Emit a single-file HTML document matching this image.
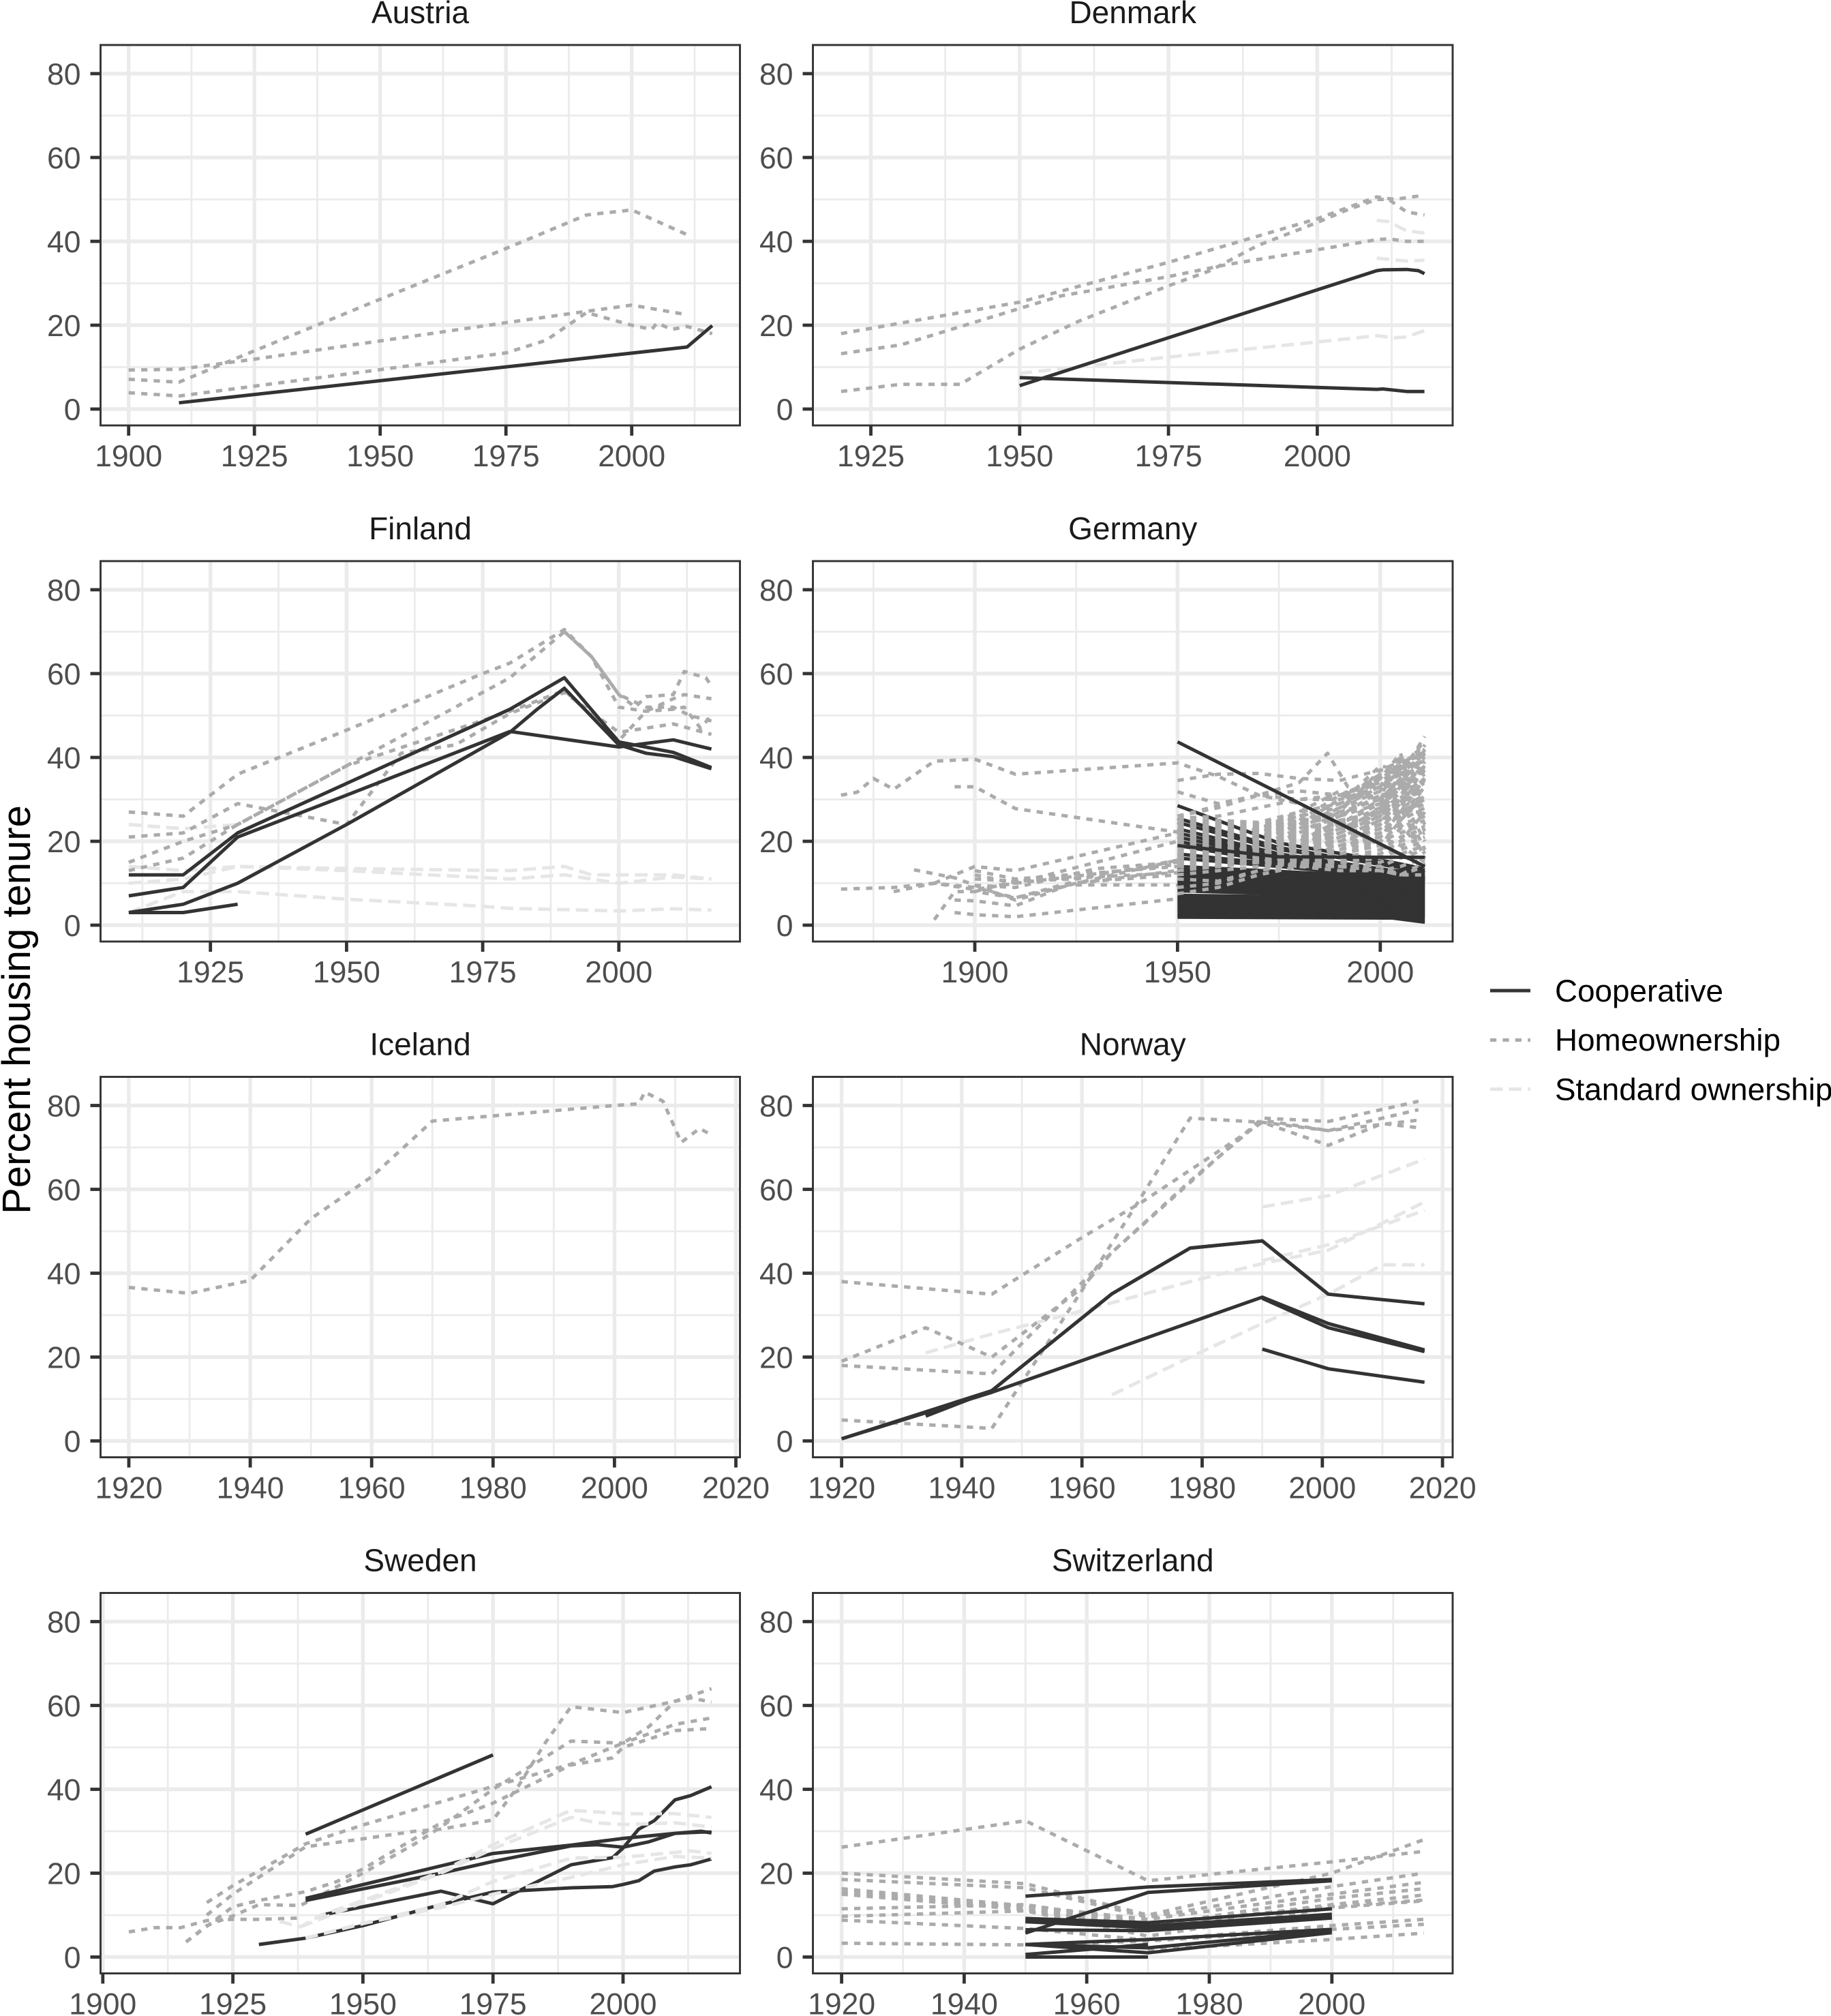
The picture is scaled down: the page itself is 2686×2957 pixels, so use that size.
<!DOCTYPE html>
<html lang="en">
<head>
<meta charset="utf-8">
<title>Percent housing tenure by country</title>
<style>
html,body{margin:0;padding:0;background:#fff;}
svg{display:block;font-family:"Liberation Sans",sans-serif;}
</style>
</head>
<body>
<svg id="chart" xmlns="http://www.w3.org/2000/svg" width="2686" height="2957" viewBox="0 0 2686 2957">
<rect x="0" y="0" width="2686" height="2957" fill="#ffffff"/>
<text transform="translate(44,1481) rotate(-90)" text-anchor="middle" font-size="58" fill="#000000">Percent housing tenure</text>
<g>
<line x1="2186" x2="2245" y1="1453" y2="1453" stroke="#333333" stroke-width="5"/>
<text x="2281" y="1469" font-size="45.8" fill="#000000">Cooperative</text>
<line x1="2186" x2="2245" y1="1525.5" y2="1525.5" stroke="#ABABAB" stroke-width="5" stroke-dasharray="9.2 9.2"/>
<text x="2281" y="1541" font-size="45.8" fill="#000000">Homeownership</text>
<line x1="2186" x2="2245" y1="1597.5" y2="1597.5" stroke="#E6E6E6" stroke-width="5" stroke-dasharray="18.4 9.2"/>
<text x="2281" y="1613.5" font-size="45.8" fill="#000000">Standard ownership</text>
</g>
</svg>
<script>
// ---------- y axis ----------
const yTicks = [0, 20, 40, 60, 80];
const yMinor = [10, 30, 50, 70];

// ---------- x axis breaks ----------
const austriaTicks = [1900, 1925, 1950, 1975, 2000];
const austriaMinor = [1912.5, 1937.5, 1962.5, 1987.5, 2012.5];
const denmarkTicks = [1925, 1950, 1975, 2000];
const denmarkMinor = [1937.5, 1962.5, 1987.5, 2012.5];
const finlandTicks = [1925, 1950, 1975, 2000];
const finlandMinor = [1912.5, 1937.5, 1962.5, 1987.5, 2012.5];
const germanyTicks = [1900, 1950, 2000];
const germanyMinor = [1875, 1925, 1975];
const icelandTicks = [1920, 1940, 1960, 1980, 2000, 2020];
const icelandMinor = [1930, 1950, 1970, 1990, 2010];
const norwayTicks = [1920, 1940, 1960, 1980, 2000, 2020];
const norwayMinor = [1930, 1950, 1970, 1990, 2010];
const swedenTicks = [1900, 1925, 1950, 1975, 2000];
const swedenMinor = [1912.5, 1937.5, 1962.5, 1987.5, 2012.5];
const switzerlandTicks = [1920, 1940, 1960, 1980, 2000];
const switzerlandMinor = [1930, 1950, 1970, 1990, 2010];

// ---------- series: flat lists of year, percent, year, percent ... ----------
const austriaCoop = [
  [1910,1.5, 2011,14.8, 2016,19.9]
];
const austriaHome = [
  [1900,9.3, 1910,9.5, 1925,11.9, 1975,20.6, 1991,23.3, 2000,24.8, 2011,22.5],
  [1900,7.1, 1910,6.4, 1925,13.9, 1950,26.2, 1975,38.3, 1991,46.3, 2000,47.5, 2011,41.6],
  [1900,3.9, 1910,3.1, 1950,9.4, 1975,13.4, 1983,16.4, 1991,23, 2000,20, 2004,19, 2005,20.5, 2008,19, 2011,19.7, 2016,18]
];

const denmarkCoop = [
  [1950,5.6, 2010,33, 2011,33.2, 2015,33.3, 2017,33, 2018,32.3],
  [1950,7.5, 2010,4.7, 2011,4.8, 2015,4.2, 2018,4.2]
];
const denmarkHome = [
  [1920,18, 1950,25.5, 1975,35, 2000,45.4, 2010,50.6, 2013,50, 2018,51],
  [1920,13.2, 1930,15.3, 1950,24, 1957,27, 1963,28.5, 1975,31.6, 1985,34.5, 2000,38, 2010,40.4, 2012,40.6, 2015,40, 2018,40],
  [1920,4.2, 1930,5.9, 1940,5.9, 1950,14.3, 1960,21, 1975,29.4, 1982,33, 1990,39, 2000,44.5, 2005,47.5, 2010,50, 2012,50, 2015,47, 2018,46.3]
];
const denmarkStd = [
  [1950,8.5, 1975,12.4, 2000,16, 2010,17.5, 2013,17, 2015,17.2, 2018,18.7],
  [2010,45, 2012,44.7, 2015,42.5, 2018,42],
  [2010,36, 2015,35.3, 2018,35.5]
];

const finlandCoop = [
  [1910,12, 1920,12, 1930,22, 1980,51.5, 1990,59, 2000,43.7, 2010,41.2, 2017,37.6],
  [1910,7, 1920,9, 1930,21, 1950,31, 1980,46.2, 2000,42.5, 2010,44.2, 2017,42],
  [1910,3, 1920,5, 1930,10, 1950,24, 1980,46, 1985,51.5, 1990,56.5, 2000,43, 2005,41, 2010,40.2, 2017,37.3],
  [1910,3, 1920,3, 1930,5]
];
const finlandHome = [
  [1910,27, 1920,26, 1930,36, 1950,46.5, 1975,60, 1980,62.5, 1990,70.5, 1995,64, 2000,55, 2003,52, 2005,54.5, 2010,55, 2012,60.5, 2016,59, 2017,57],
  [1910,21, 1920,22, 1930,29, 1950,24, 1960,41, 1970,43, 1980,50.5, 1990,55.5, 2000,46, 2010,48, 2017,45.5],
  [1910,15, 1920,20, 1930,24, 1950,38, 1980,59, 1990,70, 1995,64, 2000,52, 2005,51, 2010,51.5, 2012,52, 2015,47, 2017,50],
  [1910,13, 1920,16, 1930,24, 1935,27.5, 1950,38, 1980,51, 1990,56, 2000,44, 2005,51, 2010,54, 2012,55, 2017,54],
  [1990,70, 1995,64, 2000,55, 2005,52, 2010,52, 2013,50, 2017,48.7]
];
const finlandStd = [
  [1910,24, 1920,23, 1930,24],
  [1910,14, 1920,13, 1930,14, 1950,13.5, 1980,13, 1990,14, 1995,12, 2000,12, 2010,12, 2017,11],
  [1910,10, 1920,11, 1930,14, 1950,13, 1980,11, 1990,12, 2000,10, 2010,11.5, 2017,11],
  [1910,3, 1920,8, 1930,8, 1950,6.2, 1975,4.5, 1980,4, 2000,3.4, 2010,3.9, 2017,3.6]
];

const germanyCoopTopYears = [1950, 1975, 2003, 2011];
const germanyCoopTop = [
  [28.5,19.6,15,13.4],
  [25.5,18.5,14,13.3],
  [24.5,18,14.5,12.5],
  [23,17,13,13],
  [22,16.5,13,12],
  [21,16,13,11.5],
  [20,15.5,12.5,11.2],
  [19,15,12,11],
  [17,14.5,11.8,10.5],
  [16,14,11.5,10.8]
];
const germanyCoopBandYears = [1950, 2003, 2011];
const germanyCoopBand = [
  [14,11.5,11],[13.7,11,10.7],[13.3,10.8,10.3],[13,10.5,10],[12.6,10,9.8],[12.2,10,9.5],
  [11.9,9.7,9.2],[11.5,9.4,9],[11.1,9,8.7],[10.7,8.7,8.3],[10.4,8.5,8],[10,8.2,7.8],
  [9.6,7.9,7.5],[9.2,7.7,7.2],[8.9,7.4,7],[8.5,7,6.7],[8.2,6.8,6.4],[7.1,6.5,6],
  [6.9,6.2,5.8],[6.6,6,5.5],[6.3,5.7,5.2],[6,5.4,5],[5.7,5,4.7],[5.3,4.7,4.4],
  [5,4.5,4.1],[4.6,4.2,3.8],[4.3,3.9,3.5],[3.9,3.6,3.2],[3.7,3.3,2.9],[3.4,3,2.6],
  [2.7,2.7,2.3],[2.5,2.4,1.9],[2.2,2,1.4],[1.9,1.7,0.7]
];
const germanyCoopLead = [
  [1950,43.7, 2011,14],
  [1950,19, 1975,16.3, 2000,16.2, 2011,16.2]
];
const germanyHomeEarly = [
  [1867,31, 1871,31.7, 1875,35, 1880,32.4, 1890,39.1, 1900,39.6, 1910,36, 1950,38.7, 1960,35.5, 1970,31, 1980,29, 1990,24, 2000,19, 2011,14],
  [1895,33, 1900,33, 1910,27.8, 1950,22.2],
  [1867,8.6, 1880,9, 1890,10, 1900,8.5, 1910,10, 1950,14.5],
  [1880,8, 1890,10, 1900,9, 1910,6.5, 1923,10, 1950,12],
  [1885,13.2, 1895,11.3, 1910,6, 1925,10, 1950,15.5],
  [1890,1.3, 1895,8, 1900,8, 1910,6.5, 1925,10, 1950,13],
  [1895,3, 1900,2.5, 1910,2, 1950,6.3],
  [1895,6, 1900,5.8, 1910,4.6, 1923,9.6, 1950,9.6],
  [1890,10, 1900,14, 1910,13, 1950,22],
  [1900,12, 1910,10, 1950,20],
  [1900,11, 1910,10.5, 1925,11, 1950,15.5],
  [1900,9.5, 1910,9, 1930,13.5, 1950,15],
  [1900,8, 1910,10.5, 1950,12.5],
  [1900,13, 1910,11, 1950,14],
  [1950,26, 1970,31, 1980,34, 1987,41, 1992,33, 2000,30]
];
const germanyHomeYears = [1950, 1960, 1970, 1980, 1990, 2000, 2005, 2011];
const germanyHomeRows = [
  [34.5,36,36.2,35,34.5,37,39,40.5],
  [31.8,29,31,30,30,33,37,42],
  [26,28,31,32,31,34,38,41],
  [25.5,26,28,30,31,35,38,39],
  [25,25,24.5,27,29,33,36,45],
  [24.5,24.5,24,26,28,32,37,44],
  [24,24,23.5,25,26,31,38,43],
  [23.5,23.5,23,24.5,27,30,35,42],
  [23,23,22.5,24,26,29,36,41],
  [22.5,22.5,22,23.5,24,28,34,40],
  [22,22,21.5,23,25,27,33,38],
  [21.5,21.5,21,22.5,24,26,32,37],
  [21,21,20.5,22,23,27,33,36],
  [20.5,20.5,20,21.5,23,25,31,35],
  [20,20,19.5,21,22,26,30,34],
  [19.5,19.5,19,20.5,21,25,29,33],
  [19,19,18.5,20,21,24,30,32],
  [18.5,18.5,18,19.5,20,23,28,31],
  [18,18,17.5,19,20,24,27,30],
  [17.5,17.5,17,18.5,19,22,26,29],
  [17,17,16.8,18,19,21,25,28],
  [16.5,16.5,16.5,17,18,22,27,27],
  [16,16,16,17,18,20,24,26],
  [15.8,15.5,16,17,17,19,23,25],
  [15.5,15.5,15.5,16,17,20,22,24],
  [15.2,15,15.5,16,16,18,21,23],
  [15,15,15,16,15.5,17,20,22],
  [14.8,14.8,15,15.5,15,16,19,21],
  [14.5,14.5,15,15,15,16,18,20],
  [14,14.5,15,15,14,15,17,19],
  [11,10.5,13,15,14,14,16,18],
  [9,10,13,14.5,14,13,14,16],
  [7.5,9,12,14,13,13,12,14],
  [17,17,18,20,24,30,35,30],
  [18,18,19,22,26,32,40,25],
  [19,19,21,24,28,35,41,22],
  [20,20,22,25,27,30,26,33],
  [22,21,23,26,29,34,31,39],
  [16,17,19,21,23,26,37,36],
  [15,16,17,20,22,28,33,43],
  [15,15.5,17,19,21,24,29,42],
  [14.5,15,16,18,20,23,28,38],
  [14,15,15,17,18,21,27,35],
  [13,14,15,16,17,19,25,31],
  [12,13,14,15,16,17,20,27],
  [16,16,16,15,15,14,12,15],
  [15,15,15,14,14,13,12,12],
  [16,16,17,20,25,36,39,41],
  [17,17,18,22,27,37,36,40],
  [18,18,19,23,28,33,39,37],
  [19,19,20,24,30,36,34,41],
  [20,20,21,25,31,35,40,33],
  [21,21,22,26,29,38,37,28],
  [22,22,23,27,32,30,38,34],
  [16,16,17,20,24,29,34,24],
  [15,15,16,19,23,27,31,20],
  [15,15,16,18,22,26,30,18],
  [14,14,15,17,21,25,28,16],
  [14,14,15,17,20,22,24,17],
  [13,14,15,16,19,21,19,15]
];

const icelandHome = [
  [1920,36.6, 1930,35.2, 1940,38.3, 1950,53, 1960,63, 1970,76.3, 2000,80, 2004,80.4, 2005,83.2, 2008,81, 2011,71.2, 2014,74.5, 2016,73]
];

const norwayCoop = [
  [1920,0.5, 1945,12, 1965,35.1, 1978,46, 1990,47.7, 2001,35, 2017,32.7],
  [1934,5.9, 1945,12, 1965,35.1, 1978,46, 1990,47.7, 2001,35],
  [1920,0.5, 1945,11.6, 1990,34.3, 2001,28, 2017,21.7],
  [1990,34, 2001,27, 2017,21.3],
  [1990,21.9, 2001,17.2, 2017,14]
];
const norwayHome = [
  [1920,38, 1945,35, 1960,48.5, 1970,57, 1990,76, 2001,70.5, 2010,75.7, 2016,74.7],
  [1920,19, 1934,27, 1945,20, 1960,36.5, 1965,45, 1990,77, 2001,76.2, 2016,81],
  [1920,18, 1945,16, 1965,45, 1978,62, 1990,76.5, 2001,74, 2016,79],
  [1920,5, 1945,3, 1960,35.9, 1970,58.5, 1978,77, 1990,76, 2001,74, 2016,76.5]
];
const norwayStd = [
  [1934,21, 1945,25.5, 1960,31, 1978,38, 1990,42.3, 2001,45.5, 2017,57],
  [1965,11, 1978,20, 1990,28, 2001,35, 2010,42, 2017,42],
  [1990,55.8, 2001,58.5, 2017,67.2],
  [1990,43, 2001,46.8, 2017,55]
];

const swedenCoop = [
  [1939,29.3, 1975,48.2],
  [1939,14, 1975,24.7, 1990,26.7, 2000,28.3, 2010,29.5, 2015,30, 2017,29.6],
  [1939,13.5, 1965,20, 1975,22.8, 1990,26.5, 1995,26.8, 2000,26.2, 2005,27.5, 2010,29.5, 2015,29.8, 2017,29.8],
  [1942,10, 1965,15.7, 1975,12.7, 1990,22, 1998,23.7, 2000,26, 2003,30.5, 2006,32.5, 2008,35, 2010,37.5, 2013,38.5, 2017,40.6],
  [1930,3, 1939,4.5, 1950,7.5, 1965,12.5, 1975,15.5, 1980,15.8, 1990,16.5, 1998,16.8, 2000,17.3, 2003,18.2, 2006,20.5, 2010,21.5, 2013,22, 2017,23.4]
];
const swedenHome = [
  [1905,6, 1910,7, 1915,7, 1920,8.7, 1925,9, 1930,9, 1938,9.3],
  [1916,3.6, 1920,7.5, 1925,9.8, 1930,12.5, 1938,12.3, 1950,20, 1960,27, 1965,31, 1975,40, 1990,51.5, 2000,51, 2010,55.5, 2017,57],
  [1916,3.6, 1925,12, 1930,13.5, 1939,15.6, 1945,18, 1950,21, 1965,32, 1975,36.7, 1990,45.8, 1998,47.5, 2000,50, 2010,54, 2017,54.5],
  [1920,13, 1925,17, 1939,27, 1950,31.5, 1965,37, 1975,40.7, 1990,46, 2000,51, 2005,55, 2010,61, 2017,64],
  [1920,10, 1925,15, 1939,26.3, 1950,28.2, 1960,30, 1965,30.5, 1975,32.7, 1980,41, 1985,51, 1990,59.7, 2000,58.3, 2010,61, 2013,61.8, 2017,60.8]
];
const swedenStd = [
  [1934,8.5, 1938,7.2, 1942,10, 1950,13.5, 1965,20.3, 1975,26.8, 1990,35, 2000,34.2, 2010,34.2, 2017,33.3],
  [1938,7.2, 1950,13, 1965,20, 1975,25.8, 1990,33.3, 1995,32, 2000,31.6, 2010,32, 2017,31],
  [1939,4.5, 1950,8, 1965,12.5, 1975,18, 1990,23.6, 2000,23.8, 2013,25.3, 2017,24.7],
  [1939,4.5, 1950,8, 1965,11.8, 1975,15, 1990,19, 2000,22, 2010,24, 2017,23.6]
];

const switzerlandCoop = [
  [1950,14.5, 1970,16.7, 2000,18.5],
  [1950,5.7, 1970,15.4, 2000,18.2],
  [1950,9.2, 1970,8.2, 2000,11.5],
  [1950,8.7, 1970,7.4, 2000,10.2],
  [1950,8.4, 1970,7, 2000,9.5],
  [1950,6.5, 1970,6.3, 2000,9.3],
  [1950,3, 1970,4.2, 2000,6.6],
  [1950,3, 1970,2.2, 2000,6.3],
  [1950,0.6, 1970,3],
  [1950,3, 1970,1, 2000,5.8],
  [1950,0, 1970,0]
];
const switzerlandHome = [
  [1920,26.2, 1950,32.5, 1970,18.2, 2000,22.7, 2015,25.2],
  [1920,20, 1950,17.5, 1970,10, 2000,20, 2015,28],
  [1920,18.5, 1950,16.5, 1970,9.5, 2000,16.8, 2015,20],
  [1920,16.3, 1950,12.2, 1970,9, 2000,15, 2015,17.8],
  [1920,15.5, 1950,11.7, 1970,7.5, 2000,14, 2015,16.3],
  [1920,15, 1950,11.3, 1970,7, 2000,12.5, 2015,14.8],
  [1920,11.5, 1950,12.5, 1970,8, 2000,12, 2015,13.6],
  [1920,9.7, 1950,11, 1970,5, 2000,11.7, 2015,13.4],
  [1920,8.8, 1950,6.8, 1970,4, 2000,7.5, 2015,9],
  [1920,3.3, 1950,2.9, 1970,3.8, 2000,6.6, 2015,7.8],
  [1970,1.7, 2000,4.2, 2015,5.7]
];

// ---------- layout ----------
const colLeft = [147.5, 1192.5];
const colRight = [1085.5, 2131];
const rowBottom = [624, 1381, 2137.5, 2894.5];
const panelHeight = 558;
const zeroOffset = 24;
const unitPx = 6.15;

const STYLE = {
  coop: { stroke: '#333333', dash: null },
  home: { stroke: '#ABABAB', dash: '9.2 9.2' },
  std:  { stroke: '#E6E6E6', dash: '18.4 9.2' }
};

function fromRows(years, rows) {
  return rows.map(function (row) {
    const flat = [];
    row.forEach(function (v, i) { flat.push(years[i], v); });
    return flat;
  });
}

const panels = [
  { name: 'Austria', col: 0, row: 0, ticks: austriaTicks, minor: austriaMinor, anchor: [1900,188.7,2000,926.7],
    layers: [['home', austriaHome], ['coop', austriaCoop]] },
  { name: 'Denmark', col: 1, row: 0, ticks: denmarkTicks, minor: denmarkMinor, anchor: [1925,1277.5,2000,1932.4],
    layers: [['std', denmarkStd], ['home', denmarkHome], ['coop', denmarkCoop]] },
  { name: 'Finland', col: 0, row: 1, ticks: finlandTicks, minor: finlandMinor, anchor: [1925,308.7,2000,907.8],
    layers: [['std', finlandStd], ['home', finlandHome], ['coop', finlandCoop]] },
  { name: 'Germany', col: 1, row: 1, ticks: germanyTicks, minor: germanyMinor, anchor: [1900,1430,2000,2024.8],
    layers: [['coop', fromRows(germanyCoopTopYears, germanyCoopTop)], ['coop', fromRows(germanyCoopBandYears, germanyCoopBand)],
             ['home', germanyHomeEarly], ['home', fromRows(germanyHomeYears, germanyHomeRows)], ['coop', germanyCoopLead]] },
  { name: 'Iceland', col: 0, row: 2, ticks: icelandTicks, minor: icelandMinor, anchor: [1920,189,2000,901.4],
    layers: [['home', icelandHome]] },
  { name: 'Norway', col: 1, row: 2, ticks: norwayTicks, minor: norwayMinor, anchor: [1920,1234.6,2000,1939.8],
    layers: [['std', norwayStd], ['home', norwayHome], ['coop', norwayCoop]] },
  { name: 'Sweden', col: 0, row: 3, ticks: swedenTicks, minor: swedenMinor, anchor: [1900,150.8,2000,914],
    layers: [['home', swedenHome], ['coop', swedenCoop], ['std', swedenStd]] },
  { name: 'Switzerland', col: 1, row: 3, ticks: switzerlandTicks, minor: switzerlandMinor, anchor: [1920,1234.6,2000,1953.8],
    layers: [['home', switzerlandHome], ['coop', switzerlandCoop]] }
];

const NS = 'http://www.w3.org/2000/svg';
const svg = document.getElementById('chart');

function make(tag, attrs, parent) {
  const node = document.createElementNS(NS, tag);
  Object.keys(attrs).forEach(function (k) { node.setAttribute(k, attrs[k]); });
  parent.appendChild(node);
  return node;
}

panels.forEach(function (p) {
  const slug = p.name.toLowerCase();
  const left = colLeft[p.col], right = colRight[p.col];
  const bottom = rowBottom[p.row], top = bottom - panelHeight;
  const pxPerYear = (p.anchor[3] - p.anchor[1]) / (p.anchor[2] - p.anchor[0]);
  const xScale = function (year) { return p.anchor[1] + (year - p.anchor[0]) * pxPerYear; };
  const yScale = function (v) { return bottom - zeroOffset - v * unitPx; };

  const group = make('g', {}, svg);
  
  

  const title = make('text', { x: (left + right) / 2, y: top - 32, 'text-anchor': 'middle', 'font-size': 46, fill: '#1A1A1A' }, group);
  title.textContent = p.name;
  
  

  yMinor.forEach(function (v) {
    const g = make('line', { x1: left, x2: right, y1: yScale(v), y2: yScale(v), stroke: '#EBEBEB', 'stroke-width': 2.8 }, group);
    
    
  });
  p.minor.forEach(function (yr) {
    const g = make('line', { x1: xScale(yr), x2: xScale(yr), y1: top, y2: bottom, stroke: '#EBEBEB', 'stroke-width': 2.8 }, group);
    
    
  });
  yTicks.forEach(function (v) {
    const g = make('line', { x1: left, x2: right, y1: yScale(v), y2: yScale(v), stroke: '#EBEBEB', 'stroke-width': 5.4 }, group);
    
    
  });
  p.ticks.forEach(function (yr) {
    const g = make('line', { x1: xScale(yr), x2: xScale(yr), y1: top, y2: bottom, stroke: '#EBEBEB', 'stroke-width': 5.4 }, group);
    
    
  });

  p.layers.forEach(function (layer) {
    const kind = layer[0];
    layer[1].forEach(function (series) {
      const pts = [];
      for (let i = 0; i < series.length; i += 2) {
        pts.push(xScale(series[i]).toFixed(1) + ',' + yScale(series[i + 1]).toFixed(1));
      }
      const attrs = { points: pts.join(' '), fill: 'none', stroke: STYLE[kind].stroke, 'stroke-width': 5, 'stroke-linejoin': 'round', 'stroke-linecap': 'butt' };
      if (STYLE[kind].dash) attrs['stroke-dasharray'] = STYLE[kind].dash;
      const line = make('polyline', attrs, group);
      
      
    });
  });

  const border = make('rect', { x: left, y: top, width: right - left, height: bottom - top, fill: 'none', stroke: '#333333', 'stroke-width': 2.9 }, group);
  
  

  yTicks.forEach(function (v) {
    const t = make('line', { x1: left - 15, x2: left, y1: yScale(v), y2: yScale(v), stroke: '#333333', 'stroke-width': 4.8 }, group);
    
    
    const label = make('text', { x: left - 29, y: yScale(v) + 15.9, 'text-anchor': 'end', 'font-size': 44.5, fill: '#4D4D4D' }, group);
    label.textContent = String(v);
    
    
  });
  p.ticks.forEach(function (yr) {
    const t = make('line', { x1: xScale(yr), x2: xScale(yr), y1: bottom, y2: bottom + 15, stroke: '#333333', 'stroke-width': 4.8 }, group);
    
    
    const label = make('text', { x: xScale(yr), y: bottom + 60, 'text-anchor': 'middle', 'font-size': 44.5, fill: '#4D4D4D' }, group);
    label.textContent = String(yr);
    
    
  });
});
</script>
</body>
</html>
